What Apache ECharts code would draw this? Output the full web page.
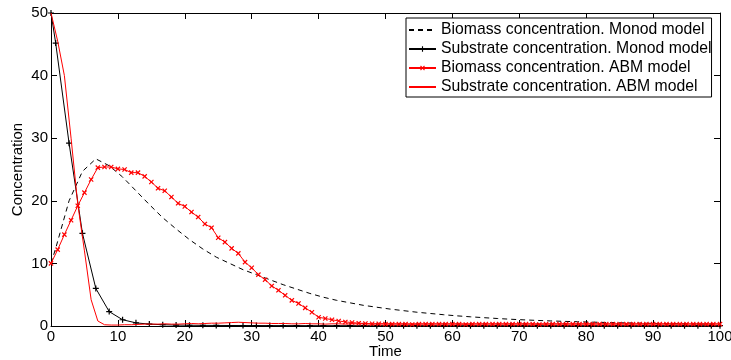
<!DOCTYPE html>
<html>
<head>
<meta charset="utf-8">
<script src="https://cdn.jsdelivr.net/npm/echarts@6/dist/echarts.min.js"></script>
<style>
html,body{margin:0;padding:0;background:#fff;}
#chart{width:731px;height:360px;}
</style>
</head>
<body>
<div id="chart"></div>
<script>
// ---- data ----
var xTicks = [0, 10, 20, 30, 40, 50, 60, 70, 80, 90, 100];
var yTicks = [0, 10, 20, 30, 40, 50];

var seriesNames = [
  'Biomass concentration. Monod model',
  'Substrate concentration. Monod model',
  'Biomass concentration. ABM model',
  'Substrate concentration. ABM model'
];

// Monod model output times
var monodTime = [0, 0.7, 2.7, 4.7, 6.7, 8.7, 10.7, 12.7, 14.7, 16.7, 18.7, 20.7, 22.7, 24.7, 26.7, 28.7, 30.7, 32.7, 34.7, 36.7, 38.7, 40.7, 42.7, 44.7, 46.7, 48.7, 50.7, 52.7, 54.7, 56.7, 58.7, 60.7, 62.7, 64.7, 66.7, 68.7, 70.7, 72.7, 74.7, 76.7, 78.7, 80.7, 82.7, 84.7, 86.7, 88.7, 90.7, 92.7, 94.7, 96.7, 98.7, 100];
var monodBiomass = [10, 12.4, 20.0, 24.7, 26.7, 25.6, 23.8, 21.6, 19.4, 17.3, 15.5, 13.8, 12.3, 11.0, 10.0, 9.0, 8.2, 7.4, 6.6, 5.9, 5.2, 4.6, 4.1, 3.7, 3.3, 3.0, 2.7, 2.45, 2.2, 2.0, 1.8, 1.62, 1.47, 1.33, 1.2, 1.08, 0.98, 0.89, 0.81, 0.74, 0.68, 0.62, 0.57, 0.52, 0.48, 0.44, 0.40, 0.37, 0.34, 0.31, 0.29, 0.28];
var monodSubstrate = [50, 45.2, 29.2, 14.8, 6.0, 2.3, 1.0, 0.5, 0.3, 0.2, 0.15, 0.12, 0.1, 0.09, 0.08, 0.07, 0.07, 0.06, 0.06, 0.06, 0.05, 0.05, 0.05, 0.05, 0.05, 0.05, 0.05, 0.05, 0.05, 0.05, 0.05, 0.05, 0.05, 0.05, 0.05, 0.05, 0.05, 0.05, 0.05, 0.05, 0.05, 0.05, 0.05, 0.05, 0.05, 0.05, 0.05, 0.05, 0.05, 0.05, 0.05, 0.05];

// ABM model output times (0..100, step 1)
var abmTime = [0,1,2,3,4,5,6,7,8,9,10,11,12,13,14,15,16,17,18,19,20,21,22,23,24,25,26,27,28,29,30,31,32,33,34,35,36,37,38,39,40,41,42,43,44,45,46,47,48,49,50,51,52,53,54,55,56,57,58,59,60,61,62,63,64,65,66,67,68,69,70,71,72,73,74,75,76,77,78,79,80,81,82,83,84,85,86,87,88,89,90,91,92,93,94,95,96,97,98,99,100];
var abmBiomass = [10, 12.2, 14.6, 16.9, 19.2, 21.3, 23.4, 25.3, 25.4, 25.4, 25.1, 25.0, 24.5, 24.5, 23.9, 23.0, 22.0, 21.6, 20.6, 19.6, 19.1, 18.2, 17.4, 16.3, 15.7, 14.1, 13.4, 12.4, 11.6, 10.2, 9.3, 8.2, 7.4, 6.4, 5.7, 4.9, 4.1, 3.6, 2.9, 2.2, 1.4, 1.2, 1.0, 0.8, 0.65, 0.55, 0.45, 0.4, 0.35, 0.35, 0.3, 0.3, 0.3, 0.3, 0.25, 0.3, 0.3, 0.3, 0.3, 0.3, 0.3, 0.3, 0.25, 0.3, 0.3, 0.3, 0.3, 0.3, 0.3, 0.3, 0.3, 0.3, 0.3, 0.25, 0.3, 0.3, 0.3, 0.3, 0.3, 0.3, 0.3, 0.3, 0.3, 0.3, 0.3, 0.3, 0.3, 0.3, 0.3, 0.3, 0.3, 0.3, 0.3, 0.3, 0.3, 0.3, 0.3, 0.3, 0.3, 0.3, 0.3];
var abmSubstrate = [50, 45.5, 40, 30, 19.5, 12, 4.2, 0.8, 0.2, 0.15, 0.15, 0.2, 0.2, 0.25, 0.3, 0.3, 0.3, 0.35, 0.3, 0.3, 0.35, 0.4, 0.35, 0.4, 0.45, 0.45, 0.5, 0.55, 0.6, 0.55, 0.5, 0.45, 0.45, 0.4, 0.4, 0.4, 0.35, 0.35, 0.4, 0.35, 0.35, 0.3, 0.35, 0.35, 0.3, 0.35, 0.35, 0.35, 0.3, 0.35, 0.35, 0.35, 0.35, 0.35, 0.35, 0.35, 0.35, 0.35, 0.35, 0.35, 0.35, 0.35, 0.35, 0.35, 0.35, 0.35, 0.35, 0.35, 0.35, 0.35, 0.35, 0.35, 0.35, 0.35, 0.35, 0.35, 0.35, 0.35, 0.35, 0.35, 0.35, 0.35, 0.35, 0.35, 0.35, 0.35, 0.35, 0.35, 0.35, 0.35, 0.35, 0.35, 0.35, 0.35, 0.35, 0.35, 0.35, 0.35, 0.35, 0.35, 0.35];

function zip(xs, ys) { return xs.map(function (x, i) { return [x, ys[i]]; }); }

var FONT = '"Liberation Sans", Arial, Helvetica, sans-serif';
var PLUS = 'path://M4,0H6V4H10V6H6V10H4V6H0V4H4Z';

var chart = echarts.init(document.getElementById('chart'), null, {renderer: 'canvas'});

function axisCommon(min, max, interval) {
  return {
    type: 'value', min: min, max: max, interval: interval,
    nameMoveOverlap: false,
    axisLine: {show: true, onZero: false, lineStyle: {color: '#000', width: 1}},
    axisTick: {show: true, inside: true, length: 6, lineStyle: {color: '#000', width: 1}},
    splitLine: {show: false}
  };
}

var xBottom = axisCommon(xTicks[0], xTicks[xTicks.length - 1], xTicks[1] - xTicks[0]);
xBottom.position = 'bottom';
xBottom.name = 'Time';
xBottom.nameLocation = 'middle';
xBottom.nameGap = 18;
xBottom.nameTextStyle = {color: '#000', fontSize: 15, fontFamily: FONT};
xBottom.axisLabel = {color: '#000', fontSize: 15, fontFamily: FONT, margin: 3};

var xTop = axisCommon(xTicks[0], xTicks[xTicks.length - 1], xTicks[1] - xTicks[0]);
xTop.position = 'top';
xTop.axisLabel = {show: false};

var yLeft = axisCommon(yTicks[0], yTicks[yTicks.length - 1], yTicks[1] - yTicks[0]);
yLeft.position = 'left';
yLeft.name = 'Concentration';
yLeft.nameLocation = 'middle';
yLeft.nameGap = 26;
yLeft.nameTextStyle = {color: '#000', fontSize: 15, fontFamily: FONT};
yLeft.axisLabel = {color: '#000', fontSize: 15, fontFamily: FONT, margin: 3};

var yRight = axisCommon(yTicks[0], yTicks[yTicks.length - 1], yTicks[1] - yTicks[0]);
yRight.position = 'right';
yRight.axisLabel = {show: false};

chart.setOption({
  animation: false,
  backgroundColor: '#fff',
  grid: {left: 51, right: 11, top: 13, bottom: 34, containLabel: false, outerBoundsMode: 'none'},
  xAxis: [xBottom, xTop],
  yAxis: [yLeft, yRight],
  legend: {
    orient: 'vertical',
    left: 406, top: 18,
    padding: [4, 0, 2, 2],
    itemWidth: 27, itemHeight: 7, itemGap: 3,
    backgroundColor: '#fff',
    borderColor: '#000', borderWidth: 1, borderRadius: 0,
    textStyle: {color: '#000', fontSize: 15.75, fontFamily: FONT},
    data: [
      {name: seriesNames[0], itemStyle: {opacity: 0}},
      {name: seriesNames[1]},
      {name: seriesNames[2]},
      {name: seriesNames[3], itemStyle: {opacity: 0}}
    ]
  },
  series: [
    {
      name: seriesNames[0], type: 'line', xAxisIndex: 0, yAxisIndex: 0,
      data: zip(monodTime, monodBiomass),
      symbol: 'none', smooth: false,
      lineStyle: {color: '#000', width: 1, type: [5, 4]},
      itemStyle: {color: '#000'}, z: 2
    },
    {
      name: seriesNames[1], type: 'line', xAxisIndex: 0, yAxisIndex: 0,
      data: zip(monodTime, monodSubstrate),
      symbol: PLUS, symbolSize: 6, showSymbol: true,
      lineStyle: {color: '#000', width: 1},
      itemStyle: {color: '#000'}, z: 3
    },
    {
      name: seriesNames[2], type: 'line', xAxisIndex: 0, yAxisIndex: 0,
      data: zip(abmTime, abmBiomass),
      symbol: PLUS, symbolSize: 6, symbolRotate: 45, showSymbol: true,
      lineStyle: {color: '#ff0000', width: 1},
      itemStyle: {color: '#ff0000'}, z: 4
    },
    {
      name: seriesNames[3], type: 'line', xAxisIndex: 0, yAxisIndex: 0,
      data: zip(abmTime, abmSubstrate),
      symbol: 'none',
      lineStyle: {color: '#ff0000', width: 1},
      itemStyle: {color: '#ff0000'}, z: 4
    }
  ]
});
</script>
</body>
</html>
